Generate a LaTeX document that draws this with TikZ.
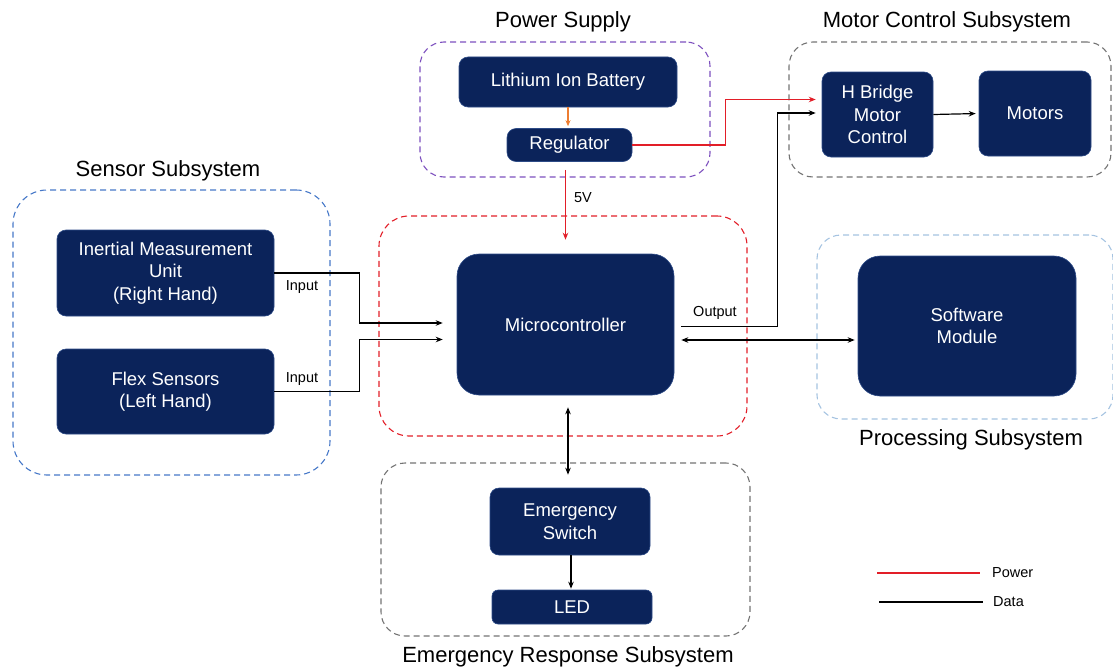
\documentclass[tikz,border=0pt]{standalone}
\usepackage{fontspec}
\setmainfont{Liberation Sans}
\usetikzlibrary{arrows.meta,positioning,calc}
\definecolor{navy}{RGB}{11,35,90}
\definecolor{navyedge}{RGB}{45,75,135}
\definecolor{pwrred}{RGB}{226,30,40}
\definecolor{battorange}{RGB}{237,125,49}
\definecolor{psline}{RGB}{125,80,190}
\definecolor{sensline}{RGB}{70,120,200}
\definecolor{greyline}{RGB}{115,115,115}
\definecolor{procline}{RGB}{165,195,225}
\begin{document}
\begin{tikzpicture}[
    x=1pt, y=-1pt,
    block/.style={draw=navyedge, fill=navy, text=white, rounded corners=9pt, align=center, inner sep=0pt, line width=0.6pt, font=\fontsize{18.5}{22.5}\selectfont},
    frame/.style={draw, dash pattern=on 6pt off 4pt, rounded corners=24pt, line width=1.1pt, inner sep=0pt},
    title/.style={font=\fontsize{22}{26}\selectfont},
    lbl/.style={font=\fontsize{14.5}{17}\selectfont, inner sep=0pt},
    pwr/.style={draw=pwrred, line width=1.5pt, -{Stealth[length=7pt,width=5.5pt]}},
    dat/.style={draw=black, line width=1.2pt, -{Stealth[length=7pt,width=5.5pt]}}
]
\useasboundingbox (0,0) rectangle (1113,669);

% subsystem frames
\node[frame, draw=psline, minimum width=290pt, minimum height=135pt] (psbox) at (565,109.5) {};
\node[frame, draw=greyline, minimum width=322pt, minimum height=135pt] (mcbox) at (950,109.5) {};
\node[frame, draw=sensline, minimum width=317pt, minimum height=285pt, rounded corners=34pt] (snbox) at (171.5,332.5) {};
\node[frame, draw=pwrred, minimum width=368pt, minimum height=220pt, rounded corners=30pt] (ucbox) at (563,326) {};
\node[frame, draw=procline, minimum width=296pt, minimum height=184pt] (prbox) at (965,327) {};
\node[frame, draw=greyline, minimum width=369pt, minimum height=173pt] (erbox) at (565.5,549.5) {};

% titles
\node[title] (pstitle) at (563,22) {Power Supply};
\node[title] (mctitle) at (947,22) {Motor Control Subsystem};
\node[title] (sntitle) at (168,171) {Sensor Subsystem};
\node[title] (prtitle) at (971,440) {Processing Subsystem};
\node[title] (ertitle) at (568,657) {Emergency Response Subsystem};

% blocks
\node[block, minimum width=218pt, minimum height=50pt] (batt) at (568,82) {Lithium Ion Battery};
\node[block, minimum width=125pt, minimum height=33pt] (reg) at (569.5,145) {Regulator};
\node[block, minimum width=111pt, minimum height=85pt] (hb) at (877.5,114.5) {H Bridge\\Motor\\Control};
\node[block, minimum width=112pt, minimum height=85pt] (mot) at (1035,113.5) {Motors};
\node[block, minimum width=217pt, minimum height=86pt] (imu) at (165.5,273) {Inertial Measurement\\Unit\\(Right Hand)};
\node[block, minimum width=217pt, minimum height=85pt] (flex) at (165.5,391.5) {Flex Sensors\\(Left Hand)};
\node[block, minimum width=217pt, minimum height=141pt, rounded corners=22pt] (mcu) at (565.5,324.5) {Microcontroller};
\node[block, minimum width=218pt, minimum height=140pt, rounded corners=22pt] (sw) at (967,326) {Software\\Module};
\node[block, minimum width=160pt, minimum height=67pt] (es) at (570,521.5) {Emergency\\Switch};
\node[block, minimum width=160pt, minimum height=34pt, rounded corners=6pt] (led) at (572,607) {LED};

% anchor points
\coordinate (hbP) at ([yshift=15pt]hb.west);
\coordinate (hbD) at ([yshift=1.5pt]hb.west);
\coordinate (mcuO) at ([yshift=-2pt]mcu.east);
\coordinate (mcuS) at ([yshift=-15.5pt]mcu.east);
\coordinate (mcuA) at ([yshift=1.5pt]mcu.west);
\coordinate (mcuB) at ([yshift=-15pt]mcu.west);

% power
\draw[pwr, draw=battorange, line width=1.2pt, -{Stealth[length=6pt,width=5pt]}, shorten >=2pt] (batt.south) -- (batt.south |- reg.north);
\draw[pwr, shorten >=6pt] (reg.east) -- ++(93,0) |- (hbP);
\draw[pwr, shorten <=8pt, shorten >=14pt] (reg.south -| mcu.north) -- (mcu.north);
\node[lbl] (vlbl) at (583,198) {5V};

% data
\draw[dat, shorten >=14pt] (imu.east) -- ++(85,0) |- (mcuA);
\draw[dat, shorten >=14pt] (flex.east) -- ++(85,0) |- (mcuB);
\node[lbl] (inA) at (302,287) {Input};
\node[lbl] (inB) at (302,379) {Input};
\draw[dat, shorten <=7pt, shorten >=6pt] (mcuO) -- ++(103,0) |- (hbD);
\node[lbl] (outlbl) at (715,313) {Output};
\draw[dat, shorten >=3pt] (hb.east) -- (mot.west);
\draw[dat, {Stealth[length=7pt,width=5.5pt]}-{Stealth[length=7pt,width=5.5pt]}, shorten <=7pt, shorten >=3pt] (mcuS) -- (mcuS -| sw.west);
\draw[dat, {Stealth[length=7pt,width=5.5pt]}-{Stealth[length=7pt,width=5.5pt]}, shorten <=12pt, shorten >=13pt] ([xshift=2.5pt]mcu.south) -- ([xshift=2.5pt]mcu.south |- es.north);
\draw[dat, shorten >=1pt] ([xshift=1pt]es.south) -- ([xshift=1pt]es.south |- led.north);

% legend
\coordinate (lgP1) at (877,573);
\coordinate (lgP2) at (980,573);
\coordinate (lgD1) at (879,602);
\coordinate (lgD2) at (983,602);
\draw[pwrred, line width=1.4pt] (lgP1) -- (lgP2);
\draw[black, line width=1.2pt] (lgD1) -- (lgD2);
\node[lbl, anchor=west] (lgPt) at (992,573) {Power};
\node[lbl, anchor=west] (lgDt) at (993,602) {Data};
\end{tikzpicture}
\end{document}
